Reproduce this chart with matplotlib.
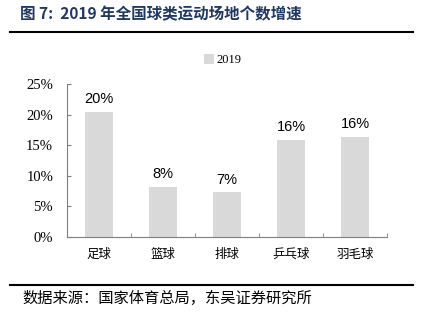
import matplotlib
matplotlib.use("Agg")
import matplotlib.pyplot as plt
from matplotlib.patches import Patch
from matplotlib.lines import Line2D

# ============================================================
# Data
# ============================================================

categories = ["足球", "篮球", "排球", "乒乓球", "羽毛球"]
growth = [20.5, 8.2, 7.3, 15.9, 16.4]
labels = ["20%", "8%", "7%", "16%", "16%"]
yticks = [0, 5, 10, 15, 20, 25]
series_name = "2019"

title = "图 7:  2019 年全国球类运动场地个数增速"
source = "数据来源：国家体育总局，东吴证券研究所"

BAR_COLOR = "#d9d9d9"
AXIS_COLOR = "#7f7f7f"
CJK = ["Noto Sans CJK SC", "DejaVu Sans"]
SERIF = ["Liberation Serif", "Noto Sans CJK SC"]

# ============================================================
# Figure
# ============================================================

fig = plt.figure(figsize=(4.21, 3.27), dpi=100)
W, H = 421, 327

ax = fig.add_axes([67 / W, 1 - 237 / H, 320 / W, 153 / H])

x = list(range(len(categories)))
ax.bar(x, growth, width=0.45, color=BAR_COLOR, zorder=2)

for xi, v, lab in zip(x, growth, labels):
    ax.annotate(lab, (xi, v), xytext=(0, 4), textcoords="offset points",
                ha="center", va="bottom", fontsize=10.5,
                family="Liberation Sans", color="black")

ax.set_xlim(-0.5, len(categories) - 0.5)
ax.set_ylim(0, 25)
ax.set_yticks(yticks)
ax.set_yticklabels([f"{t}%" for t in yticks], family=SERIF, fontsize=10.5)
ax.set_xticks(x)
ax.set_xticklabels(categories, family=CJK, fontsize=9)
ax.set_xticks([i - 0.5 for i in range(len(categories) + 1)], minor=True)

ax.tick_params(axis="x", which="major", length=0, pad=8)
ax.tick_params(axis="x", which="minor", direction="in", length=3,
               color=AXIS_COLOR)
ax.tick_params(axis="y", direction="in", length=3, color=AXIS_COLOR, pad=10)

for side in ["top", "right"]:
    ax.spines[side].set_visible(False)
for side in ["left", "bottom"]:
    ax.spines[side].set_color(AXIS_COLOR)
    ax.spines[side].set_linewidth(0.8)

# Legend
handle = Patch(facecolor=BAR_COLOR, edgecolor="none")
fig.legend([handle], [series_name], loc="center",
           bbox_to_anchor=(223 / W, 1 - 60 / H), frameon=False,
           prop={"family": "Liberation Serif", "size": 9},
           handlelength=0.8, handleheight=0.8, handletextpad=0.2)

# Title and source
fig.text(20 / W, 1 - 14 / H, title, family=CJK, fontsize=11.2,
         fontweight="bold", color="#1f3864", ha="left", va="center")
fig.add_artist(Line2D([10 / W, 413 / W], [1 - 32 / H, 1 - 32 / H],
                      color="black", linewidth=1.5))
fig.add_artist(Line2D([10 / W, 413 / W], [1 - 285 / H, 1 - 285 / H],
                      color="black", linewidth=1.5))
fig.text(22 / W, 1 - 298 / H, source, family=CJK, fontsize=11,
         color="black", ha="left", va="center")

fig.savefig("out.png", dpi=100, facecolor="white")
